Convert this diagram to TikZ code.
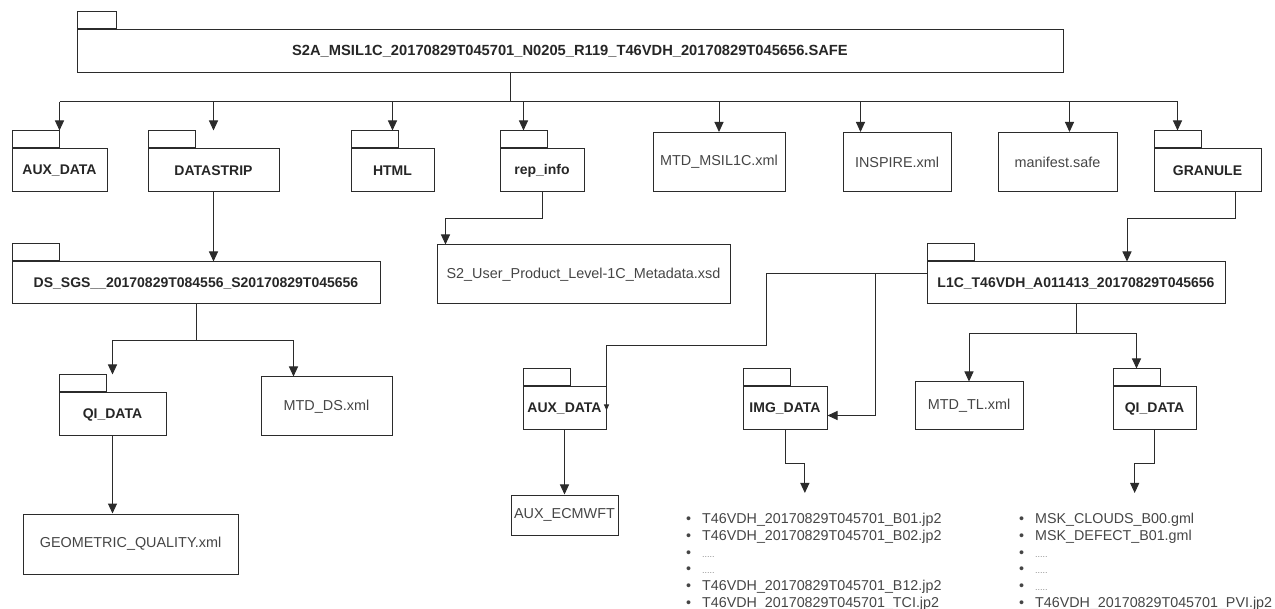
\documentclass[tikz,border=0pt]{standalone}
\usepackage{fontspec}
\setmainfont{Liberation Sans}
\usetikzlibrary{arrows.meta,positioning,calc}
\definecolor{cline}{HTML}{2b2b2b}
\definecolor{ctext}{HTML}{454545}
\definecolor{cdots}{HTML}{8a8a8a}

\begin{document}
\begin{tikzpicture}[x=1pt, y=-1pt,
    dir/.style={draw=cline, line width=1pt, inner sep=0pt, minimum height=43pt, font=\fontsize{14}{16}\selectfont\bfseries, text=black!85},
    file/.style={draw=cline, line width=1pt, inner sep=0pt, minimum height=59pt, font=\fontsize{14.4}{16}\selectfont, text=ctext},
    tab/.style={draw=cline, line width=1pt, inner sep=0pt, minimum width=47pt, minimum height=17pt, anchor=south west},
    list/.style={inner sep=0pt, anchor=north west, align=left, font=\fontsize{14.3}{16.8}\selectfont, text=ctext},
    arr/.style={-{Triangle[length=10pt,width=9pt]}, line width=1pt, cline},
    link/.style={line width=1pt, cline}
  ]
  \useasboundingbox (0,0) rectangle (1275,609);

  % product root
  \node[dir, minimum width=986pt, font=\fontsize{14.7}{16}\selectfont\bfseries] (safe) at (570,51.5) {S2A\_MSIL1C\_20170829T045701\_N0205\_R119\_T46VDH\_20170829T045656.SAFE};
  \node[tab, minimum width=39pt] (safe-t) at (safe.north west) {};

  % first level
  \node[dir, minimum width=95pt] (aux) at (59.5,170.5) {AUX\_DATA};
  \node[dir, minimum width=131pt] (datastrip) at (213.5,170.5) {DATASTRIP};
  \node[dir, minimum width=83pt] (html) at (392.5,170.5) {HTML};
  \node[dir, minimum width=84pt] (repinfo) at (542,170.5) {rep\_info};
  \node[file, minimum width=132pt] (mtdmsi) at (719,162) {MTD\_MSIL1C.xml};
  \node[file, minimum width=108pt] (inspire) at (897,162) {INSPIRE.xml};
  \node[file, minimum width=119pt] (manifest) at (1057.5,162) {manifest.safe};
  \node[dir, minimum width=107pt] (granule) at (1207.5,170.5) {GRANULE};

  % second level
  \node[dir, minimum width=368pt, minimum height=42pt] (ds) at (196,283) {DS\_SGS\_\_20170829T084556\_S20170829T045656};
  \node[file, minimum width=293pt] (s2user) at (583.5,274.5) {S2\_User\_Product\_Level-1C\_Metadata.xsd};
  \node[dir, minimum width=298pt, minimum height=42pt] (l1c) at (1076,283) {L1C\_T46VDH\_A011413\_20170829T045656};

  % third level
  \node[dir, minimum width=107pt] (qi) at (112.5,414.5) {QI\_DATA};
  \node[file, minimum width=131pt] (mtdds) at (326.5,406.5) {MTD\_DS.xml};
  \node[file, minimum width=215pt, minimum height=60pt] (geom) at (130.5,544) {GEOMETRIC\_QUALITY.xml};
  \node[dir, minimum width=83pt] (aux2) at (564.5,408.5) {AUX\_DATA};
  \node[file, minimum width=107pt, minimum height=40pt] (ecmwft) at (564.5,515) {AUX\_ECMWFT};
  \node[dir, minimum width=84pt] (img) at (785,408.5) {IMG\_DATA};
  \node[file, minimum width=108pt, minimum height=48pt] (mtdtl) at (969,406) {MTD\_TL.xml};
  \node[dir, minimum width=83pt] (qi2) at (1154.5,408.5) {QI\_DATA};

  \foreach \n in {aux,datastrip,html,repinfo,granule,ds,l1c,qi,aux2,img,qi2}
    \node[tab] (\n-t) at (\n.north west) {};

  % file lists
  \node[list] (imglist) at (686,513) {%
    \textbullet\hspace{11pt}T46VDH\_20170829T045701\_B01.jp2\\
    \textbullet\hspace{11pt}T46VDH\_20170829T045701\_B02.jp2\\
    \textbullet\hspace{11pt}{\fontsize{9}{16.8}\selectfont\color{cdots}.....}\\
    \textbullet\hspace{11pt}{\fontsize{9}{16.8}\selectfont\color{cdots}.....}\\
    \textbullet\hspace{11pt}T46VDH\_20170829T045701\_B12.jp2\\
    \textbullet\hspace{11pt}T46VDH\_20170829T045701\_TCI.jp2};
  \node[list] (qilist) at (1019,513) {%
    \textbullet\hspace{11pt}MSK\_CLOUDS\_B00.gml\\
    \textbullet\hspace{11pt}MSK\_DEFECT\_B01.gml\\
    \textbullet\hspace{11pt}{\fontsize{9}{16.8}\selectfont\color{cdots}.....}\\
    \textbullet\hspace{11pt}{\fontsize{9}{16.8}\selectfont\color{cdots}.....}\\
    \textbullet\hspace{11pt}{\fontsize{9}{16.8}\selectfont\color{cdots}.....}\\
    \textbullet\hspace{11pt}T46VDH\_20170829T045701\_PVI.jp2};
  \coordinate (imgin) at ([xshift=-9pt,yshift=20pt]imglist.north);
  \coordinate (qiin) at ([xshift=-11pt,yshift=20pt]qilist.north);

  % root bus
  \coordinate (bus) at (510,102);
  \draw[link] (safe.south -| bus) -- (bus);
  \draw[link] (bus -| aux-t.north east) -- (bus -| granule-t.north);
  \draw[arr] (bus -| aux-t.north east) -- (aux-t.north east);
  \draw[arr] (bus -| datastrip.north) -- (datastrip.north |- datastrip-t.north);
  \draw[arr] (bus -| html.north) -- (html.north |- html-t.north);
  \draw[arr] (bus -| repinfo-t.north) -- (repinfo-t.north);
  \draw[arr] (bus -| mtdmsi.north) -- (mtdmsi.north);
  \draw[arr] (bus -| inspire.north west) ++(18,0) -- ([xshift=18pt]inspire.north west);
  \draw[arr] (bus -| manifest.north) ++(12,0) -- ([xshift=12pt]manifest.north);
  \draw[arr] (bus -| granule-t.north) -- (granule-t.north);

  % datastrip branch
  \draw[arr] (datastrip.south) -- (datastrip.south |- ds.north);
  \draw[link] (ds.south) -- ++(0,36) coordinate (dsfork);
  \draw[arr] (dsfork) -| (qi.north |- qi-t.north);
  \draw[arr] (dsfork) -| ([xshift=-33pt]mtdds.north);
  \draw[arr] (qi.south) -- (qi.south |- geom.north);

  % rep_info branch
  \draw[arr] (repinfo.south) -- ++(0,26) -| ([xshift=9pt]s2user.north west);

  % granule branch
  \draw[arr] ([xshift=28pt]granule.south) -- ++(0,26) -| ([xshift=51pt]l1c.north);
  \draw[link] (l1c.south) -- ++(0,29) coordinate (l1cfork);
  \draw[arr] (l1cfork) -| (mtdtl.north);
  \draw[arr] (l1cfork) -| (qi2-t.north);
  \draw[arr] ([yshift=9pt]l1c.west) -| ++(-51,0) |- ([yshift=-7pt]img.east);
  \draw[link, -{Triangle[length=6pt,width=5pt]}] ([yshift=9pt]l1c.west) -| ++(-160,72) -| ([yshift=-2pt]aux2.east);
  \draw[arr] (aux2.south) -- (ecmwft.north);
  \draw[arr] (img.south) -- ++(0,33) -| (imgin);
  \draw[arr] (qi2.south) -- ++(0,33) -| (qiin);
\end{tikzpicture}
\end{document}
